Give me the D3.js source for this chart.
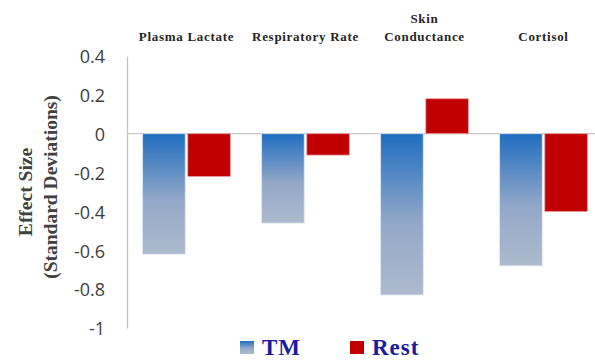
<!DOCTYPE html>
<html>
<head>
<meta charset="utf-8">
<script src="https://cdn.jsdelivr.net/npm/d3@7"></script>
<style>
  body { margin: 0; background: #fff; }
  svg { display: block; }
</style>
</head>
<body>
<div class="wrapper"></div>
<script>
const categories = [["Plasma Lactate"], ["Respiratory Rate"], ["Skin", "Conductance"], ["Cortisol"]];
const seriesNames = ["TM", "Rest"];
const tmValues = [-0.62, -0.46, -0.83, -0.68];
const restValues = [-0.22, -0.11, 0.18, -0.40];
const yTicks = [0.4, 0.2, 0, -0.2, -0.4, -0.6, -0.8, -1];

const width = 595, height = 360;
const margin = {top: 56, right: -8, bottom: 32, left: 127};

const svg = d3.select(".wrapper").append("svg")
    .attr("width", width)
    .attr("height", height);

// gradient for the TM bars
const defs = svg.append("defs");
const grad = defs.append("linearGradient")
    .attr("id", "tmGrad")
    .attr("x1", 0).attr("y1", 0).attr("x2", 0).attr("y2", 1);
grad.append("stop").attr("offset", "0%").attr("stop-color", "#1f6dc1");
grad.append("stop").attr("offset", "55%").attr("stop-color", "#93a8c8");
grad.append("stop").attr("offset", "100%").attr("stop-color", "#adbacd");

const y = d3.scaleLinear()
    .domain([-1, 0.4])
    .range([height - margin.bottom, margin.top]);

const x0 = d3.scaleBand()
    .domain(d3.range(categories.length))
    .range([margin.left, width - margin.right])
    .paddingInner(0.263)
    .paddingOuter(0.1315);

const x1 = d3.scaleBand()
    .domain(seriesNames)
    .range([0, x0.bandwidth()])
    .paddingInner(0.057);

// y axis, plain hyphen for negatives like the original
const yAxis = d3.axisLeft(y)
    .tickValues(yTicks)
    .tickSize(0)
    .tickPadding(22)
    .tickFormat(d => String(+d.toFixed(1)));

const gy = svg.append("g")
    .attr("transform", "translate(" + margin.left + ",0)")
    .call(yAxis);
gy.select(".domain").attr("stroke", "#c4c4c4").attr("stroke-width", 1.3);
gy.selectAll("text")
    .attr("font-family", "'Open Sans', sans-serif")
    .attr("font-size", 18)
    .attr("fill", "#404040")
    .attr("dy", "0.38em");

// zero line
svg.append("line")
    .attr("x1", margin.left)
    .attr("x2", width)
    .attr("y1", y(0))
    .attr("y2", y(0))
    .attr("stroke", "#c8c8c8")
    .attr("stroke-width", 1.3);

// bars
const groups = svg.selectAll("g.group")
    .data(categories.map((c, i) => ({i: i, values: [tmValues[i], restValues[i]]})))
    .enter().append("g")
    .attr("class", "group")
    .attr("transform", d => "translate(" + x0(d.i) + ",0)");

groups.selectAll("rect")
    .data(d => d.values.map((v, k) => ({key: seriesNames[k], value: v})))
    .enter().append("rect")
    .attr("x", d => x1(d.key))
    .attr("width", x1.bandwidth())
    .attr("y", d => y(Math.max(0, d.value)))
    .attr("height", d => Math.abs(y(d.value) - y(0)))
    .attr("fill", d => d.key === "TM" ? "url(#tmGrad)" : "#c00000")
    .attr("stroke", d => d.key === "TM" ? "#dfe6ef" : "#e8a0a0")
    .attr("stroke-width", 0.8);

// category labels along the top
const catLabels = svg.selectAll("text.cat")
    .data(categories.map((c, i) => ({i: i, lines: c})))
    .enter().append("text")
    .attr("class", "cat")
    .attr("text-anchor", "middle")
    .attr("font-family", "'Liberation Serif', serif")
    .attr("font-weight", "bold")
    .attr("font-size", 13)
    .attr("letter-spacing", 0.7)
    .attr("fill", "#262626")
    .attr("x", d => x0(d.i) + x0.bandwidth() / 2);

catLabels.selectAll("tspan")
    .data(d => d.lines.map((t, k) => ({t: t, k: k, n: d.lines.length})))
    .enter().append("tspan")
    .attr("x", function () { return d3.select(this.parentNode).attr("x"); })
    .attr("y", d => 41 - (d.n - 1 - d.k) * 18)
    .text(d => d.t);

// y axis title
const yTitle = svg.append("text")
    .attr("transform", "translate(0,189) rotate(-90)")
    .attr("text-anchor", "middle")
    .attr("font-family", "'Liberation Serif', serif")
    .attr("font-weight", "bold")
    .attr("font-size", 19.5)
    .attr("fill", "#404040");
yTitle.append("tspan").attr("x", -3).attr("y", 32).text("Effect Size");
yTitle.append("tspan").attr("x", 2).attr("y", 57).text("(Standard Deviations)");

// legend
const legendX = [240, 350];
const legend = svg.selectAll("g.legend")
    .data(seriesNames)
    .enter().append("g")
    .attr("class", "legend")
    .attr("transform", (d, i) => "translate(" + legendX[i] + ",341)");

legend.append("rect")
    .attr("width", 14)
    .attr("height", 13)
    .attr("fill", d => d === "TM" ? "url(#tmGrad)" : "#c00000");

legend.append("text")
    .attr("x", 22)
    .attr("y", 14)
    .attr("font-family", "'Liberation Serif', serif")
    .attr("font-weight", "bold")
    .attr("font-size", 23)
    .attr("letter-spacing", 1)
    .attr("fill", "#1c1ca0")
    .text(d => d);
</script>
</body>
</html>
